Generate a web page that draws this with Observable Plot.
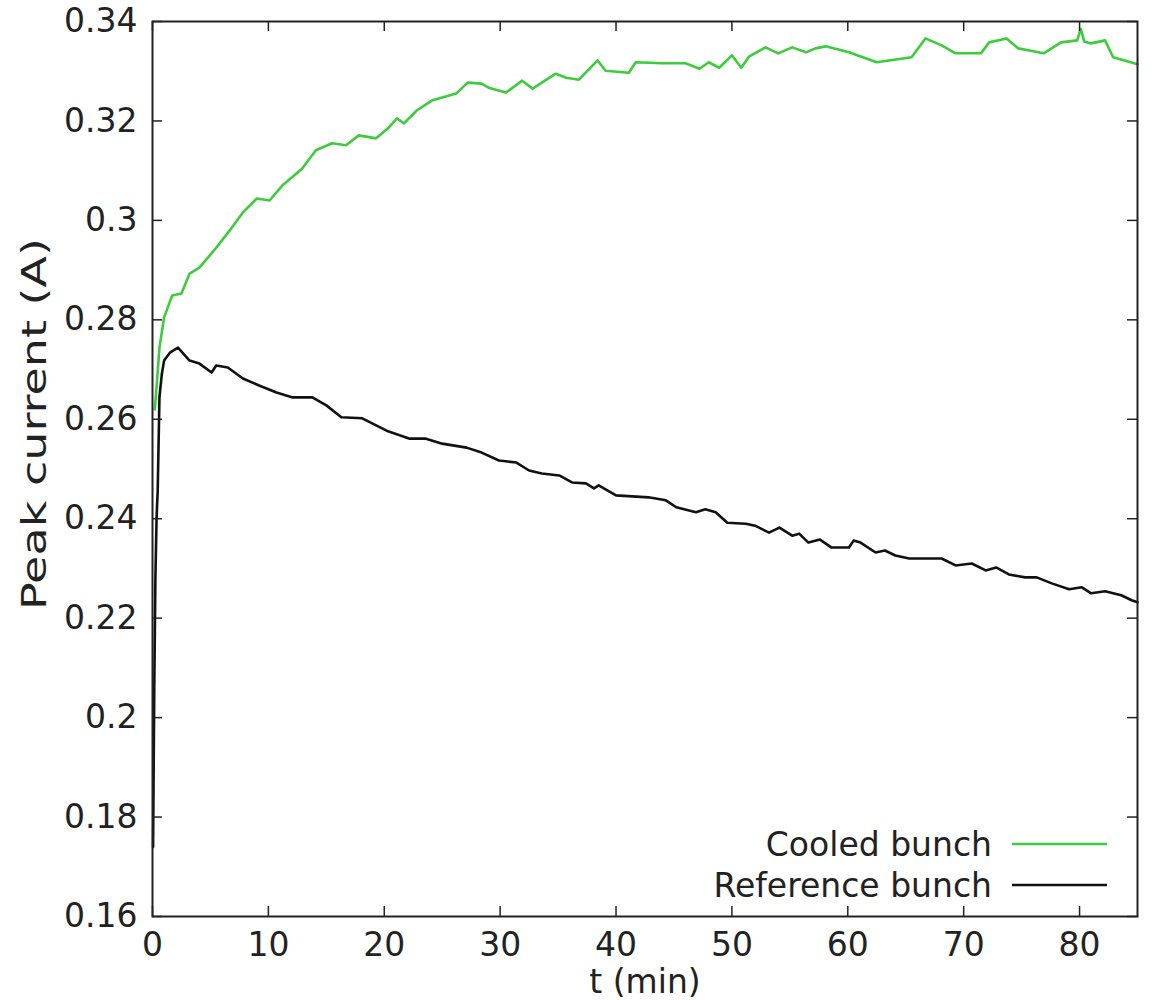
<!DOCTYPE html>
<html>
<head>
<meta charset="utf-8">
<script src="https://cdn.jsdelivr.net/npm/d3@7"></script>
<script src="https://cdn.jsdelivr.net/npm/@observablehq/plot@0.6"></script>
<style>
  html, body { margin: 0; padding: 0; background: #fff; }
  #chart svg { display: block; }
</style>
</head>
<body>
<div id="chart"></div>
<script>
// ---- data ----
const cooledT = [0.2,0.4,0.6,1.0,1.7, 2.5,3.2,4.05,5.5,6.8, 7.8,9.0,10.1,11.2,12.9, 14.1,15.5,16.7,17.8,19.3,
  20.4,21.1,21.7,22.8,24.1, 26.2,27.2,28.4,29.0,30.5, 31.9,32.8,34.8,35.7,36.8, 38.4,39.1,41.1,41.7,44.0,
  46.0,47.2,48.0,48.9,50.0, 50.8,51.5,52.9,54.0,55.2, 56.4,57.2,58.1,60.1,62.5, 65.5,66.7,68.1,69.3,71.5,
  72.2,73.7,74.7,76.9,78.4, 79.8,80.1,80.4,81.0,82.2, 82.9,84.7,85];
const cooledI = [0.262,0.268,0.2744,0.2805,0.2849, 0.2853,0.2893,0.2905,0.2945,0.2984, 0.3016,0.3044,0.3040,0.3070,0.3104,
  0.3141,0.3155,0.3151,0.3171,0.3165, 0.3187,0.3205,0.3195,0.3221,0.3241, 0.3255,0.3277,0.3275,0.3267,0.3257,
  0.3281,0.3265,0.3295,0.3287,0.3283, 0.3322,0.3301,0.3297,0.3318,0.3316, 0.3316,0.3305,0.3318,0.3307,0.3332,
  0.3307,0.3330,0.3348,0.3336,0.3348, 0.3338,0.3346,0.3350,0.3338,0.3318, 0.3328,0.3366,0.3352,0.3336,0.3336,
  0.3358,0.3366,0.3346,0.3336,0.3358, 0.3362,0.3385,0.3360,0.3356,0.3362, 0.3328,0.3316,0.3314];

const refT = [0.05,0.15,0.25,0.35,0.45, 0.6,0.8,1.0,1.5,2.2, 3.2,4.05,5.1,5.5,6.5, 7.8,9.2,10.7,12.1,13.8,
  15.0,16.3,18.1,20.2,22.2, 23.6,25.0,27.1,28.4,29.9, 31.4,32.5,33.6,35.1,36.2, 37.4,38.1,38.5,40.0,41.4,
  42.8,44.3,45.2,46.9,47.7, 48.6,49.6,51.2,52.0,53.2, 54.1,55.2,55.8,56.6,57.6, 58.6,60.1,60.5,61.1,62.4,
  63.2,64.1,65.3,66.7,68.1, 69.3,70.7,71.9,72.8,73.9, 75.3,76.3,77.6,79.1,80.2, 81.0,82.2,83.6,84.5,85];
const refI = [0.174,0.205,0.228,0.240,0.2457, 0.2644,0.2690,0.2718,0.2734,0.2744, 0.2718,0.2712,0.2694,0.2708,0.2704,
  0.2682,0.2668,0.2654,0.2644,0.2644, 0.2628,0.2604,0.2602,0.2577,0.2561, 0.2561,0.2551,0.2543,0.2533,0.2517,
  0.2513,0.2497,0.2491,0.2487,0.2473, 0.2471,0.2461,0.2467,0.2447,0.2445, 0.2443,0.2437,0.2423,0.2413,0.2419,
  0.2413,0.2392,0.2390,0.2386,0.2372, 0.2382,0.2366,0.2370,0.2352,0.2358, 0.2342,0.2342,0.2356,0.2352,0.2332,
  0.2336,0.2326,0.2320,0.2320,0.2320, 0.2306,0.2310,0.2296,0.2302,0.2288, 0.2282,0.2282,0.2270,0.2258,0.2262,
  0.2250,0.2254,0.2246,0.2236,0.2232];

const xTicks = [0,10,20,30,40,50,60,70,80];
const yTicks = [0.16,0.18,0.2,0.22,0.24,0.26,0.28,0.3,0.32,0.34];
const seriesNames = ["Cooled bunch", "Reference bunch"];
const seriesColors = ["#3ccc3c", "#111111"];
const xLabel = "t (min)";
const yLabel = "Peak current (A)";

// ---- layout ----
const W = 1155, H = 1000;
const mL = 152, mR = 18, mT = 21, mB = 84;
const plotW = W - mL - mR, plotH = H - mT - mB;
const TICK = 10;
const FS = 33;
const INK = "#222";

const cooled = cooledT.map((t, i) => ({t, v: cooledI[i]}));
const reference = refT.map((t, i) => ({t, v: refI[i]}));

const chart = Plot.plot({
  width: W, height: H,
  marginLeft: mL, marginRight: mR, marginTop: mT, marginBottom: mB,
  style: {fontFamily: "'DejaVu Sans', sans-serif", fontSize: FS + "px", color: INK, background: "#fff"},
  x: {domain: [0, 85]},
  y: {domain: [0.16, 0.34]},
  marks: [
    Plot.line(cooled, {x: "t", y: "v", stroke: seriesColors[0], strokeWidth: 2.6}),
    Plot.line(reference, {x: "t", y: "v", stroke: seriesColors[1], strokeWidth: 2.6}),
    // inward ticks on all four sides
    Plot.tickX(xTicks, {x: d => d, insetTop: plotH - TICK, stroke: INK, strokeWidth: 1.5}),
    Plot.tickX(xTicks, {x: d => d, insetBottom: plotH - TICK, stroke: INK, strokeWidth: 1.5}),
    Plot.tickY(yTicks, {y: d => d, insetRight: plotW - TICK, stroke: INK, strokeWidth: 1.5}),
    Plot.tickY(yTicks, {y: d => d, insetLeft: plotW - TICK, stroke: INK, strokeWidth: 1.5}),
    Plot.axisX({ticks: xTicks, tickSize: 0, tickPadding: 16, tickFormat: d => String(d), label: null, fontSize: FS, fill: INK}),
    Plot.axisY({ticks: yTicks, tickSize: 0, tickPadding: 15, tickFormat: d => String(d), label: null, fontSize: FS, fill: INK}),
    Plot.text([xLabel], {frameAnchor: "bottom", dy: 66, lineAnchor: "middle", fontSize: FS, fill: INK}),
    Plot.text([yLabel], {frameAnchor: "left", dx: -117, dy: -45, rotate: -90, textAnchor: "middle", lineAnchor: "middle", fontSize: FS, fill: INK}),
    Plot.frame({stroke: INK, strokeWidth: 2})
  ]
});

// the reference's rotated y label is drawn stretched along its length
d3.select(chart).selectAll("text")
  .filter(function() { return this.textContent === yLabel; })
  .attr("textLength", 372).attr("lengthAdjust", "spacingAndGlyphs");

// legend inside the frame, bottom right (gnuplot style)
const xr = chart.scale("x").range, yr = chart.scale("y").range;
const right = Math.max(...xr), bottom = Math.max(...yr);
const svg = d3.select(chart);
const lg = svg.append("g").attr("font-family", "'DejaVu Sans', sans-serif").attr("font-size", FS);
seriesNames.forEach((name, i) => {
  const y = bottom - 72 + i * 41;
  lg.append("text").attr("x", right - 145).attr("y", y).attr("dy", "0.35em")
    .attr("text-anchor", "end").attr("fill", INK).text(name);
  lg.append("line").attr("x1", right - 125).attr("x2", right - 30).attr("y1", y).attr("y2", y)
    .attr("stroke", seriesColors[i]).attr("stroke-width", 2.6);
});

document.getElementById("chart").appendChild(chart);
</script>
</body>
</html>
